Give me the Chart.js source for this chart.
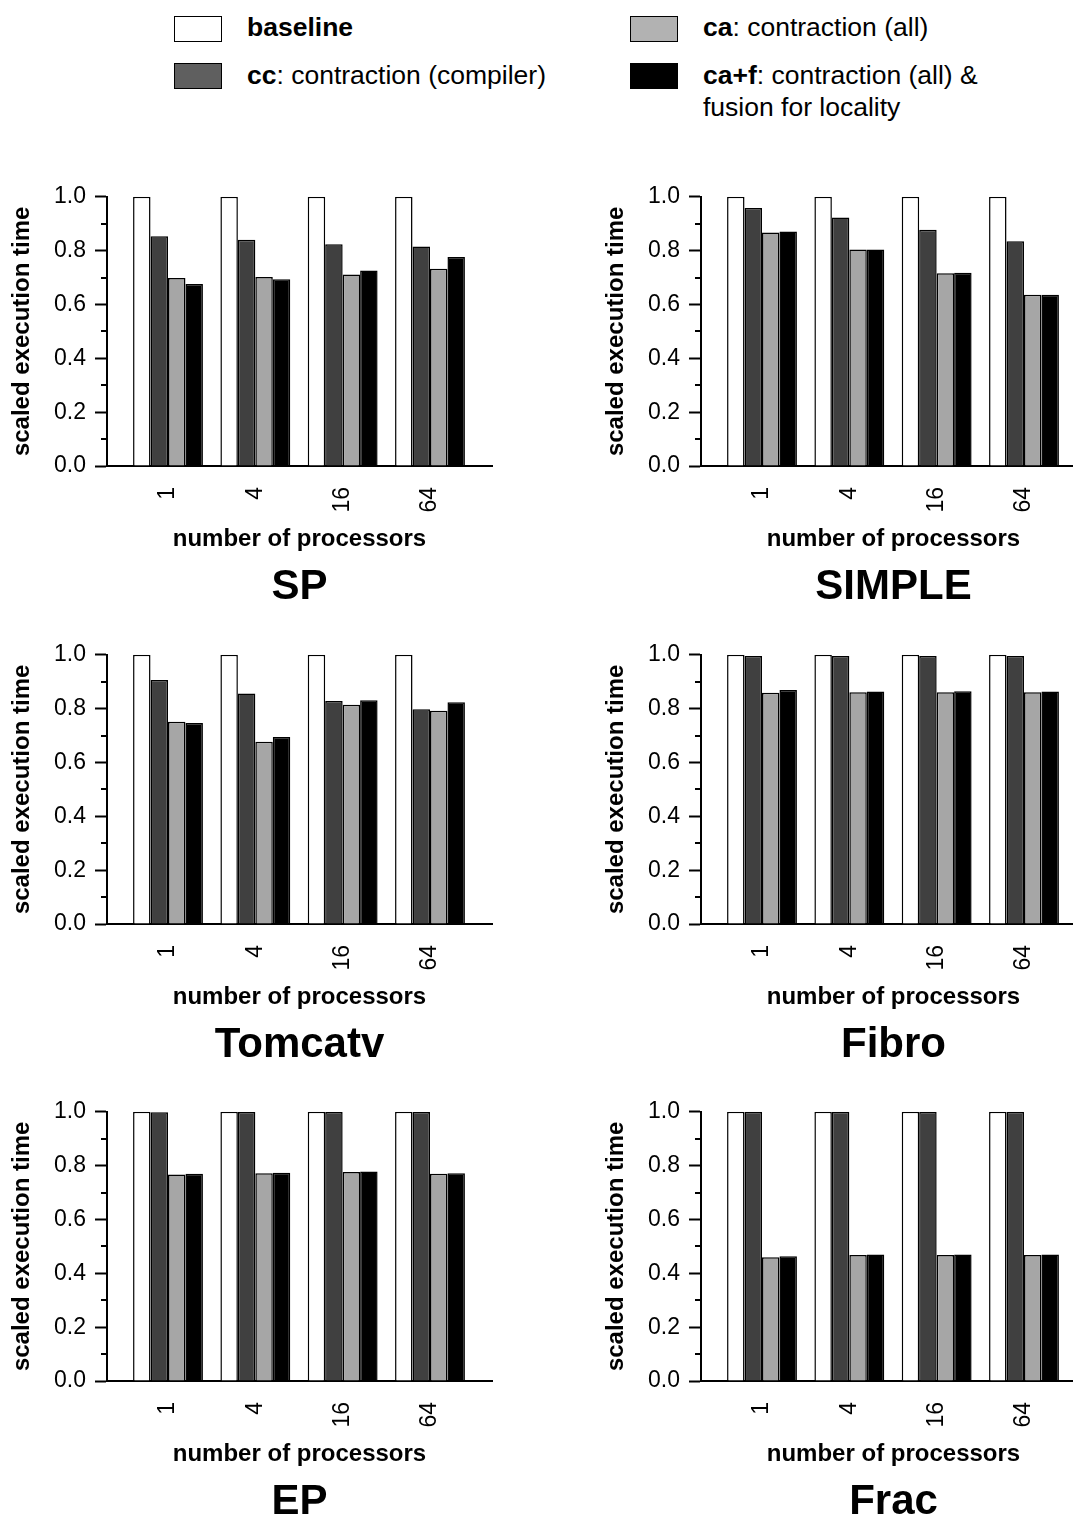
<!DOCTYPE html>
<html>
<head>
<meta charset="utf-8">
<script src="https://cdn.jsdelivr.net/npm/chart.js@4/dist/chart.umd.min.js"></script>
<style>
  html, body { margin: 0; padding: 0; background: #fff; overflow: hidden; }
  body { width: 1073px; height: 1518px; position: relative; font-family: 'Liberation Sans', Arial, sans-serif; color: #000; }
  .panel { position: absolute; width: 540px; height: 434px; }
  .legend { position: absolute; font-size: 26.5px; line-height: 32px; }
  .sw { position: absolute; width: 46px; height: 24px; border: 1.5px solid #000; }
  .lt { position: absolute; white-space: nowrap; }
</style>
</head>
<body>
<div class="sw" style="left:174px;top:16px;background:#ffffff"></div>
<div class="lt legend" style="left:247px;top:11px"><b>baseline</b></div>
<div class="sw" style="left:174px;top:63px;background:#5f5f5f"></div>
<div class="lt legend" style="left:247px;top:59px"><b>cc</b>: contraction (compiler)</div>
<div class="sw" style="left:630px;top:16px;background:#b2b2b2"></div>
<div class="lt legend" style="left:703px;top:11px"><b>ca</b>: contraction (all)</div>
<div class="sw" style="left:630px;top:63px;background:#000000"></div>
<div class="lt legend" style="left:703px;top:59px"><b>ca+f</b>: contraction (all) &amp;<br>fusion for locality</div>

<div class="panel" style="left:0px;top:174px"><canvas id="c0"></canvas></div>
<div class="panel" style="left:594px;top:174px"><canvas id="c1"></canvas></div>
<div class="panel" style="left:0px;top:632px"><canvas id="c2"></canvas></div>
<div class="panel" style="left:594px;top:632px"><canvas id="c3"></canvas></div>
<div class="panel" style="left:0px;top:1089px"><canvas id="c4"></canvas></div>
<div class="panel" style="left:594px;top:1089px"><canvas id="c5"></canvas></div>

<script>
// ---- data ----
const processors = ['1', '4', '16', '64'];
const benchmarks = ['SP', 'SIMPLE', 'Tomcatv', 'Fibro', 'EP', 'Frac'];
const seriesNames = ['baseline', 'cc', 'ca', 'ca+f'];
const yTicks = [0.0, 0.2, 0.4, 0.6, 0.8, 1.0];
const yMinorTicks = [0.1, 0.3, 0.5, 0.7, 0.9];

const SP_baseline = [1.0, 1.0, 1.0, 1.0];
const SP_cc  = [0.853, 0.840, 0.824, 0.815];
const SP_ca  = [0.698, 0.702, 0.711, 0.733];
const SP_caf = [0.676, 0.694, 0.726, 0.776];

const SIMPLE_baseline = [1.0, 1.0, 1.0, 1.0];
const SIMPLE_cc  = [0.958, 0.923, 0.878, 0.835];
const SIMPLE_ca  = [0.867, 0.804, 0.716, 0.636];
const SIMPLE_caf = [0.871, 0.804, 0.718, 0.636];

const Tomcatv_baseline = [1.0, 1.0, 1.0, 1.0];
const Tomcatv_cc  = [0.906, 0.856, 0.828, 0.798];
const Tomcatv_ca  = [0.751, 0.677, 0.814, 0.792];
const Tomcatv_caf = [0.747, 0.695, 0.831, 0.824];

const Fibro_baseline = [1.0, 1.0, 1.0, 1.0];
const Fibro_cc  = [0.996, 0.996, 0.996, 0.996];
const Fibro_ca  = [0.859, 0.861, 0.861, 0.861];
const Fibro_caf = [0.869, 0.864, 0.865, 0.864];

const EP_baseline = [1.0, 1.0, 1.0, 1.0];
const EP_cc  = [0.998, 0.999, 0.999, 0.999];
const EP_ca  = [0.767, 0.772, 0.776, 0.770];
const EP_caf = [0.770, 0.774, 0.778, 0.772];

const Frac_baseline = [1.0, 1.0, 1.0, 1.0];
const Frac_cc  = [1.0, 1.0, 1.0, 1.0];
const Frac_ca  = [0.460, 0.468, 0.468, 0.468];
const Frac_caf = [0.463, 0.470, 0.470, 0.470];

const panelSeries = [
  [SP_baseline, SP_cc, SP_ca, SP_caf],
  [SIMPLE_baseline, SIMPLE_cc, SIMPLE_ca, SIMPLE_caf],
  [Tomcatv_baseline, Tomcatv_cc, Tomcatv_ca, Tomcatv_caf],
  [Fibro_baseline, Fibro_cc, Fibro_ca, Fibro_caf],
  [EP_baseline, EP_cc, EP_ca, EP_caf],
  [Frac_baseline, Frac_cc, Frac_ca, Frac_caf]
];

// ---- styling ----
const barColors = ['#ffffff', '#404040', '#a6a6a6', '#000000'];
const FONT = "'Liberation Sans', Arial, sans-serif";

const minorTickPlugin = {
  id: 'minorTicks',
  afterDraw(chart) {
    const ys = chart.scales.y;
    const ctx = chart.ctx;
    ctx.save();
    ctx.strokeStyle = '#000';
    ctx.lineWidth = 2;
    ctx.beginPath();
    yMinorTicks.forEach(v => {
      const py = Math.round(ys.getPixelForValue(v));
      ctx.moveTo(ys.right - 6, py);
      ctx.lineTo(ys.right, py);
    });
    ctx.stroke();
    ctx.restore();
  }
};

benchmarks.forEach((name, p) => {
  const datasets = seriesNames.map((s, k) => ({
    label: s,
    data: panelSeries[p][k].map((v, i) => ({ x: i + 1, y: v })),
    backgroundColor: barColors[k],
    borderColor: '#000',
    borderWidth: 1.5,
    barPercentage: 1.0,
    categoryPercentage: 0.8
  }));
  new Chart(document.getElementById('c' + p), {
    type: 'bar',
    data: { datasets },
    plugins: [minorTickPlugin],
    options: {
      responsive: true,
      maintainAspectRatio: false,
      animation: false,
      events: [],
      layout: { padding: { top: 20, right: 48, left: 0, bottom: 0 } },
      plugins: {
        legend: { display: false },
        tooltip: { enabled: false },
        title: {
          display: true,
          text: name,
          position: 'bottom',
          fullSize: false,
          color: '#000',
          font: { family: FONT, size: 42, weight: 'bold', lineHeight: 1 },
          padding: { top: 15, bottom: 0 }
        }
      },
      scales: {
        x: {
          type: 'linear',
          offset: false,
          min: 0.3015,
          max: 4.71,
          afterBuildTicks: (scale) => { scale.ticks = processors.map((c, i) => ({ value: i + 1 })); },
          afterFit: (scale) => { scale.height = 85; },
          grid: { display: true, offset: false, drawOnChartArea: false, drawTicks: false },
          border: { display: true, color: '#000', width: 2 },
          ticks: {
            autoSkip: false,
            minRotation: 90,
            maxRotation: 90,
            padding: 21,
            color: '#000',
            font: { family: FONT, size: 23 },
            callback: (v) => processors[Math.round(v) - 1]
          },
          title: {
            display: true,
            text: 'number of processors',
            color: '#000',
            font: { family: FONT, size: 24, weight: 'bold', lineHeight: 1 },
            padding: { top: 0, bottom: 0 }
          }
        },
        y: {
          min: 0,
          max: 1,
          afterBuildTicks: (scale) => { scale.ticks = yTicks.map(v => ({ value: v })); },
          afterFit: (scale) => { scale.width = 107; },
          grid: { display: true, drawOnChartArea: false, drawTicks: true, tickLength: 12, tickWidth: 2, tickColor: '#000' },
          border: { display: true, color: '#000', width: 2 },
          ticks: {
            padding: 9,
            color: '#000',
            font: { family: FONT, size: 23 },
            callback: (v) => Number(v).toFixed(1)
          },
          title: {
            display: true,
            text: 'scaled execution time',
            color: '#000',
            font: { family: FONT, size: 24, weight: 'bold', lineHeight: 1 },
            padding: { top: 10, bottom: 0 }
          }
        }
      }
    }
  });
});
</script>
</body>
</html>
